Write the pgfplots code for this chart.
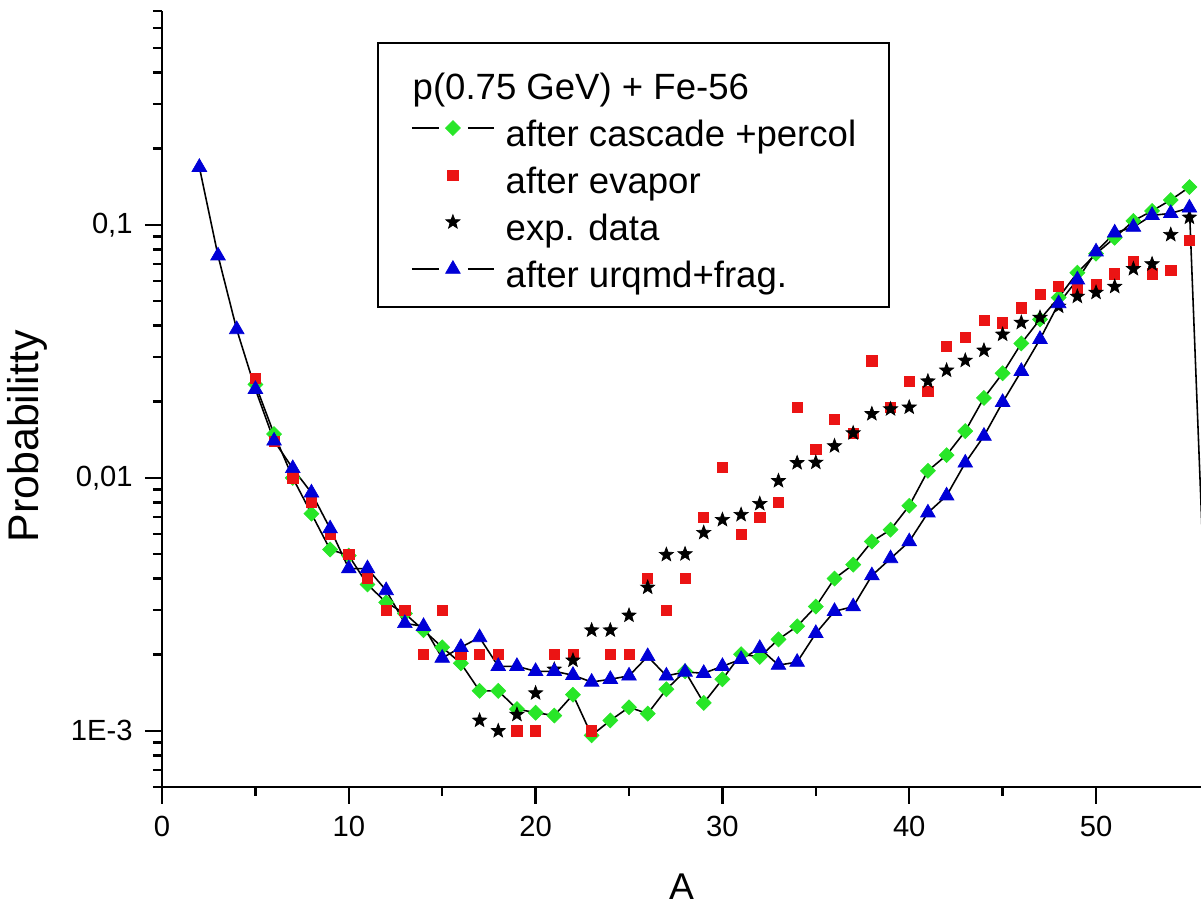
\documentclass[border=0pt]{standalone}
\usepackage{pgfplots}
\pgfplotsset{compat=1.18}
\usepackage{fontspec}
\setmainfont{Liberation Sans}

\definecolor{mgreen}{RGB}{40,230,40}
\definecolor{mred}{RGB}{235,20,20}
\definecolor{mblue}{RGB}{0,0,215}

% filled five-point star
\pgfdeclareplotmark{fstar}{%
  \pgfpathmoveto{\pgfpointpolar{90}{\pgfplotmarksize}}%
  \pgfpathlineto{\pgfpointpolar{126}{0.42\pgfplotmarksize}}%
  \pgfpathlineto{\pgfpointpolar{162}{\pgfplotmarksize}}%
  \pgfpathlineto{\pgfpointpolar{198}{0.42\pgfplotmarksize}}%
  \pgfpathlineto{\pgfpointpolar{234}{\pgfplotmarksize}}%
  \pgfpathlineto{\pgfpointpolar{270}{0.42\pgfplotmarksize}}%
  \pgfpathlineto{\pgfpointpolar{306}{\pgfplotmarksize}}%
  \pgfpathlineto{\pgfpointpolar{342}{0.42\pgfplotmarksize}}%
  \pgfpathlineto{\pgfpointpolar{18}{\pgfplotmarksize}}%
  \pgfpathlineto{\pgfpointpolar{54}{0.42\pgfplotmarksize}}%
  \pgfpathclose
  \pgfusepathqfillstroke
}

\pgfplotsset{
  linelegend/.style={legend image code/.code={%
      \draw[mark=none] (0cm,0cm) -- (0.27cm,0cm);
      \draw[mark=none] (0.56cm,0cm) -- (0.82cm,0cm);
      \draw[only marks] plot coordinates {(0.41cm,0cm)};
  }},
  marklegend/.style={legend image code/.code={%
      \path[draw=none, fill=none] (0cm,0cm) -- (0.82cm,0cm);
      \draw[only marks] plot coordinates {(0.41cm,0cm)};
  }},
}

\begin{document}
\begin{tikzpicture}
  \useasboundingbox (-1.62,-1.16) rectangle (10.39,7.87);
  \begin{axis}[
      scale only axis,
      width=10.39cm,
      height=7.76cm,
      at={(0,0)},
      anchor=south west,
      % x axis
      xmin=0, xmax=55.62,
      xtick={0,10,20,30,40,50},
      minor x tick num=1,
      axis x line*=bottom,
      hide obscured x ticks=false,
      xlabel={A},
      xlabel style={at={(axis description cs:0.5,-0.1289)}, anchor=center,
        font=\fontsize{10.6}{12}\selectfont},
      % y axis
      ymode=log,
      ymin=0.0006, ymax=0.7,
      ytick={0.001,0.01,0.1},
      yticklabels={1E-3,{0,01},{0,1}},
      minor ytick={0.0006,0.0007,0.0008,0.0009,
        0.002,0.003,0.004,0.005,0.006,0.007,0.008,0.009,
        0.02,0.03,0.04,0.05,0.06,0.07,0.08,0.09,
        0.2,0.3,0.4,0.5,0.6,0.7},
      axis y line*=left,
      hide obscured y ticks=false,
      ylabel={Probabilitty},
      ylabel style={at={(axis description cs:-0.130,0.452)}, anchor=center,
        font=\fontsize{12.2}{14}\selectfont},
      % ticks and lines
      /pgf/number format/assume math mode=true,
      tick label style={font=\fontsize{8.3}{10}\selectfont},
      tick align=outside,
      major tick length=0.17cm,
      minor tick length=0.09cm,
      tick style={black, line width=0.7pt},
      axis line style={black, line width=0.8pt},
      % legend
      legend cell align=left,
      legend style={
        at={(0.207,0.960)}, anchor=north west,
        draw=black, line width=0.6pt,
        inner xsep=0.33cm, inner ysep=0.145cm,
        row sep=0pt, column sep=0.11cm,
        nodes={inner sep=0pt, text height=0.415cm, text depth=0.055cm,
          font=\fontsize{10.4}{12}\selectfont},
      },
    ]

    \addlegendimage{empty legend}
    \addlegendentry{\hspace*{-0.93cm}p(0.75 GeV) + Fe-56}

    % after cascade + percol
    \addplot[black, line width=0.45pt, mark=square*, mark size=1.5pt,
      mark options={rotate=45, fill=mgreen, draw=mgreen, line width=0.2pt},
      linelegend] table {
      A P
      5 0.0234
      6 0.0149
      7 0.0100
      8 0.00722
      9 0.00521
      10 0.00493
      11 0.00379
      12 0.00322
      13 0.00291
      14 0.0025
      15 0.00214
      16 0.00185
      17 0.00144
      18 0.00144
      19 0.00122
      20 0.00118
      21 0.00115
      22 0.00139
      23 0.00096
      24 0.00110
      25 0.00124
      26 0.00117
      27 0.00146
      28 0.00172
      29 0.00129
      30 0.0016
      31 0.00201
      32 0.00196
      33 0.0023
      34 0.00259
      35 0.0031
      36 0.0040
      37 0.00454
      38 0.0056
      39 0.00624
      40 0.00776
      41 0.01066
      42 0.0123
      43 0.0153
      44 0.0207
      45 0.0259
      46 0.034
      47 0.0423
      48 0.0516
      49 0.0647
      50 0.0769
      51 0.0889
      52 0.1037
      53 0.1135
      54 0.1254
      55 0.141
    };
    \addlegendentry{after cascade +percol}

    % after evapor
    \addplot[only marks, mark=square*, mark size=1.45pt,
      mark options={fill=mred, draw=mred, line width=0.2pt},
      marklegend] table {
      A P
      5 0.0248
      6 0.0139
      7 0.010
      8 0.0080
      9 0.006
      10 0.005
      11 0.004
      12 0.003
      13 0.003
      14 0.002
      15 0.003
      16 0.002
      17 0.002
      18 0.002
      19 0.001
      20 0.001
      21 0.002
      22 0.002
      23 0.001
      24 0.002
      25 0.002
      26 0.004
      27 0.003
      28 0.004
      29 0.007
      30 0.011
      31 0.006
      32 0.007
      33 0.008
      34 0.019
      35 0.013
      36 0.017
      37 0.015
      38 0.029
      39 0.019
      40 0.024
      41 0.022
      42 0.033
      43 0.036
      44 0.042
      45 0.041
      46 0.047
      47 0.053
      48 0.057
      49 0.056
      50 0.058
      51 0.064
      52 0.072
      53 0.064
      54 0.066
      55 0.087
    };
    \addlegendentry{after evapor}

    % exp. data
    \addplot[only marks, mark=fstar, mark size=2.1pt,
      mark options={fill=black, draw=black, line width=0.2pt},
      marklegend] table {
      A P
      17 0.0011
      18 0.0010
      19 0.00116
      20 0.00141
      21 0.00175
      22 0.0019
      23 0.0025
      24 0.0025
      25 0.00286
      26 0.00369
      27 0.00497
      28 0.0050
      29 0.00607
      30 0.00683
      31 0.00715
      32 0.0079
      33 0.00973
      34 0.01146
      35 0.0115
      36 0.01336
      37 0.01503
      38 0.0179
      39 0.0187
      40 0.019
      41 0.0241
      42 0.0266
      43 0.0291
      44 0.0319
      45 0.0369
      46 0.0411
      47 0.043
      48 0.0476
      49 0.0521
      50 0.054
      51 0.057
      52 0.067
      53 0.070
      54 0.0914
      55 0.107
    };
    \addlegendentry{exp. data}

    % after urqmd + frag.
    \addplot[black, line width=0.45pt, mark=triangle*, mark size=2.4pt,
      mark options={fill=mblue, draw=mblue, line width=0.2pt},
      linelegend] table {
      A P
      2 0.169
      3 0.0755
      4 0.0386
      5 0.0224
      6 0.0140
      7 0.0109
      8 0.00873
      9 0.0063
      10 0.00438
      11 0.00438
      12 0.00359
      13 0.00266
      14 0.00259
      15 0.00194
      16 0.00214
      17 0.00234
      18 0.0018
      19 0.0018
      20 0.00172
      21 0.00172
      22 0.00166
      23 0.00156
      24 0.0016
      25 0.00165
      26 0.00197
      27 0.00165
      28 0.00171
      29 0.00169
      30 0.0018
      31 0.00192
      32 0.00212
      33 0.00182
      34 0.00187
      35 0.00243
      36 0.00297
      37 0.0031
      38 0.00411
      39 0.0048
      40 0.0056
      41 0.00728
      42 0.0085
      43 0.01146
      44 0.01463
      45 0.0199
      46 0.0264
      47 0.0353
      48 0.0489
      49 0.0607
      50 0.0783
      51 0.093
      52 0.098
      53 0.109
      54 0.111
      55 0.1167
      56 0.0015
    };
    \addlegendentry{after urqmd+frag.}
  \end{axis}
\end{tikzpicture}
\end{document}
